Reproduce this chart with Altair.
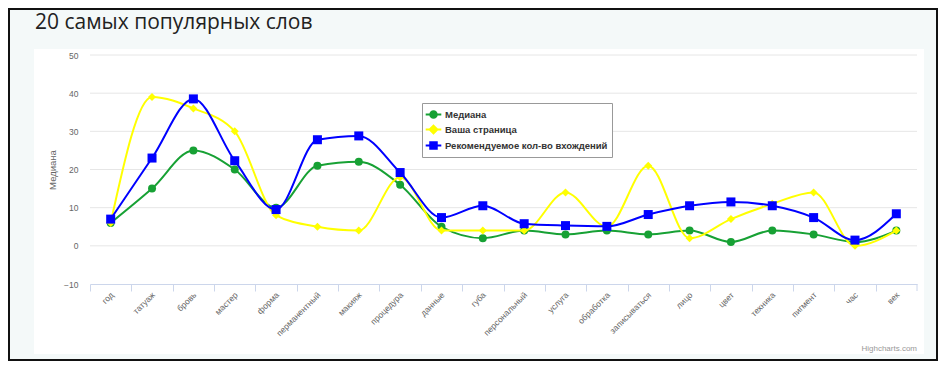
import altair as alt
import pandas as pd

categories = ["год", "татуаж", "бровь", "мастер", "форма", "перманентный", "макияж",
              "процедура", "данные", "губа", "персональный", "услуга", "обработка",
              "записываться", "лицо", "цвет", "техника", "пигмент", "час", "век"]
series_names = ["Медиана", "Ваша страница", "Рекомендуемое кол-во вхождений"]
median = [6, 15, 25, 20, 10, 21, 22, 16, 5, 2, 4, 3, 4, 3, 4, 1, 4, 3, 1, 4]
your_page = [6, 39, 36, 30, 8, 5, 4, 18, 4, 4, 4, 14, 5, 21, 2, 7, 11, 14, 0, 4]
recommended = [7, 23, 38.5, 22.3, 9.5, 27.8, 28.8, 19.2, 7.4, 10.5, 5.8, 5.3, 5.1, 8.2,
               10.5, 11.5, 10.5, 7.4, 1.5, 8.4]
y_ticks = [-10, 0, 10, 20, 30, 40, 50]
grid_values = [0, 10, 20, 30, 40, 50]
title_text = "20 самых популярных слов"
y_title = "Медиана"
credit_text = "Highcharts.com"

colors = ["#17a134", "#ffff00", "#0000ff"]
shapes = ["circle", "diamond", "square"]
sizes = [64, 64, 81]
legend_paths = [
    "M-1.2,0H1.2M-0.5,0A0.5,0.5,0,1,0,0.5,0A0.5,0.5,0,1,0,-0.5,0Z",
    "M-1.2,0H1.2M0,-0.6L0.6,0L0,0.6L-0.6,0Z",
    "M-1.2,0H1.2M-0.5,-0.5H0.5V0.5H-0.5Z",
]

rows = []
for name, vals in zip(series_names, [median, your_page, recommended]):
    for c, v in zip(categories, vals):
        rows.append({"category": c, "series": name, "value": v})
df = pd.DataFrame(rows)

W, H = 827, 229
step = W / len(categories)
FONT = "Liberation Sans"

x_enc = alt.X("category:N", sort=categories,
              scale=alt.Scale(type="point", padding=0.5),
              axis=alt.Axis(title=None, labelAngle=315, labelAlign="right",
                            labelBaseline="middle", labelFontSize=8.5, labelColor="#666",
                            labelFont=FONT, labelPadding=2, tickSize=7, tickColor="#ccd6eb",
                            domainColor="#ccd6eb", tickOffset=-step / 2,
                            labelOffset=step / 2 + 1, grid=False, labelOverlap=False,
                            zindex=1))
y_axis = alt.Axis(values=y_ticks, title=y_title, titleFontSize=9.5,
                  titleColor="#666", titleFont=FONT, titleFontWeight="normal",
                  titleX=-38, titleY=H / 2, titleAngle=270,
                  titleAlign="center", titleBaseline="middle",
                  labelFontSize=8.5, labelColor="#666", labelFont=FONT,
                  tickSize=0, ticks=False, labelPadding=12, domain=False,
                  grid=False, zindex=1, labelOverlap=False)
y_scale = alt.Scale(domain=[-10, 50], nice=False, zero=False)
y_enc = alt.Y("value:Q", scale=y_scale, axis=y_axis)

one = pd.DataFrame({"a": [0]})

frame = alt.Chart(one).mark_rect(fill="#f4f9f9", stroke="#111", strokeWidth=2).encode(
    x=alt.value(-81), x2=alt.value(847), y=alt.value(-46), y2=alt.value(305))
panel = alt.Chart(one).mark_rect(fill="white").encode(
    x=alt.value(-56), x2=alt.value(834), y=alt.value(-6), y2=alt.value(299))
grid = alt.Chart(pd.DataFrame({"value": grid_values})).mark_rule(
    color="#e6e6e6", strokeWidth=1).encode(y=y_enc, x=alt.value(0), x2=alt.value(W))
title = alt.Chart(pd.DataFrame({"t": [title_text]})).mark_text(
    align="left", baseline="alphabetic", font="Open Sans", fontSize=21, color="#222"
).encode(x=alt.value(-55), y=alt.value(-26.5), text="t:N")
credit = alt.Chart(pd.DataFrame({"t": [credit_text]})).mark_text(
    align="right", baseline="alphabetic", font=FONT, fontSize=8, color="#999"
).encode(x=alt.value(827), y=alt.value(296), text="t:N")
last_tick = alt.Chart(one).mark_rule(color="#ccd6eb").encode(
    x=alt.value(W), y=alt.value(H), y2=alt.value(H + 7))

base = alt.Chart(df).encode(x=x_enc, y=y_enc)
layers = [frame, panel, grid, title, credit]
for name, col, shp, sz in zip(series_names, colors, shapes, sizes):
    sub = base.transform_filter(alt.datum.series == name)
    layers.append(sub.mark_line(interpolate="monotone", color=col, strokeWidth=2))
    layers.append(sub.mark_point(filled=True, shape=shp, size=sz, color=col, opacity=1))
layers.append(last_tick)

leg = alt.Legend(title=None, orient="none", legendX=332, legendY=48, direction="vertical",
                 fillColor="white", strokeColor="#999", padding=4, symbolSize=169,
                 symbolStrokeWidth=2, labelFont=FONT, labelFontSize=9.5,
                 labelFontWeight="bold", labelColor="#333", labelOffset=4, rowPadding=-3,
                 labelLimit=400, symbolOpacity=1)
legend_layer = alt.Chart(df).transform_filter("false").mark_point(filled=True).encode(
    fill=alt.Fill("series:N", scale=alt.Scale(domain=series_names, range=colors), legend=leg),
    stroke=alt.Stroke("series:N", scale=alt.Scale(domain=series_names, range=colors), legend=leg),
    shape=alt.Shape("series:N", scale=alt.Scale(domain=series_names, range=legend_paths), legend=leg),
)
layers.append(legend_layer)

chart = alt.layer(*layers).properties(
    width=W, height=H,
    autosize=alt.AutoSizeParams(type="none"),
    padding={"left": 82, "top": 47, "right": 21, "bottom": 77},
    background="white",
).configure_view(stroke=None)

chart.save("out.html", embed_options={"renderer": "svg", "actions": False})
